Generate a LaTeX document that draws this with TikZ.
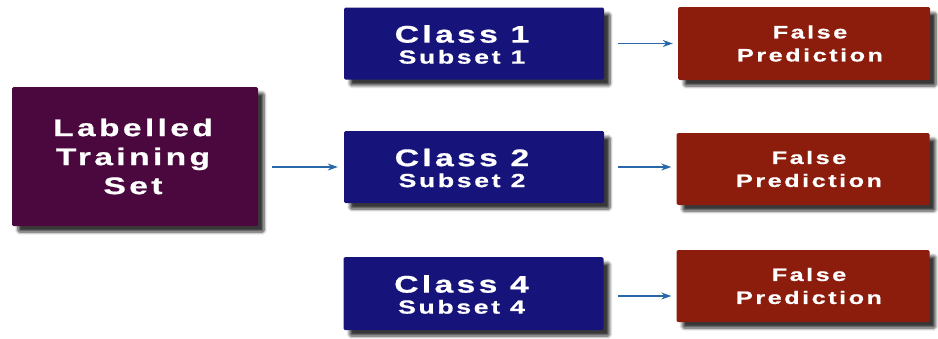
\documentclass[tikz,border=0pt]{standalone}
\usepackage{fontspec}
\setmainfont{Liberation Sans}[LetterSpace=14, FakeStretch=1.4, BoldFeatures={FakeBold=0.7}]
\usetikzlibrary{shadows.blur,arrows.meta}
\definecolor{plum}{RGB}{74,8,62}
\definecolor{navy}{RGB}{22,20,122}
\definecolor{brick}{RGB}{140,28,12}
\definecolor{link}{RGB}{40,104,170}
\tikzset{
  card/.style={rectangle, rounded corners=1.5pt, inner sep=0pt,
    blur shadow={shadow xshift=6pt, shadow yshift=-6pt, shadow blur steps=6,
      shadow blur radius=3pt, shadow opacity=78}},
  source/.style={card, fill=plum, minimum width=246pt, minimum height=139pt},
  classbox/.style={card, fill=navy, minimum width=260pt, minimum height=72pt},
  falsebox/.style={card, fill=brick, minimum width=253pt, minimum height=72pt},
  caption/.style={inner sep=0pt, align=center, text=white},
  sourcetext/.style={caption, font=\bfseries\fontsize{24}{29}\selectfont},
  classtext/.style={caption, font=\bfseries\fontsize{19}{21}\selectfont},
  falsetext/.style={caption, font=\bfseries\fontsize{18}{23}\selectfont},
  flow/.style={draw=link, line width=1.2pt, -{Stealth[length=10pt,width=7pt]}},
}
\newcommand{\classlines}[1]{{\fontsize{24}{24}\selectfont Class #1}\\Subset #1}
\begin{document}
\begin{tikzpicture}[x=1pt,y=-1pt]
  \useasboundingbox (0,0) rectangle (938,338);
  % source set
  \node[source] (src) at (135,156.5) {};
  \node[sourcetext] (srct) at ([xshift=-2pt]src) {Labelled\\Training\\Set};
  % class subsets
  \node[classbox] (c1) at (474,43.5) {};
  \node[classbox] (c2) at (474,167) {};
  \node[classbox, minimum height=73pt] (c4) at (473.5,293.5) {};
  \node[classtext] (c1t) at ([xshift=-12pt,yshift=-1pt]c1) {\classlines{1}};
  \node[classtext] (c2t) at ([xshift=-12pt,yshift=-1pt]c2) {\classlines{2}};
  \node[classtext] (c4t) at ([xshift=-12pt,yshift=-1pt]c4) {\classlines{4}};
  % predictions
  \node[falsebox, minimum width=252pt, minimum height=73pt] (f1) at (804,43.5) {};
  \node[falsebox] (f2) at (803,169) {};
  \node[falsebox] (f3) at (803,286) {};
  \node[falsetext] (f1t) at ([xshift=6pt]f1) {False\\Prediction};
  \node[falsetext] (f2t) at ([xshift=6pt]f2) {False\\Prediction};
  \node[falsetext] (f3t) at ([xshift=6pt]f3) {False\\Prediction};
  % connectors
  \draw[flow, shorten <=14pt, shorten >=6pt] (src.east |- c2) -- (c2.west);
  \draw[flow, shorten <=14pt, shorten >=5pt] (c1.east) -- (c1.east -| f1.west);
  \draw[flow, shorten <=14pt, shorten >=5pt] (c2.east) -- (c2.east -| f2.west);
  \draw[flow, shorten <=14pt, shorten >=5pt] ([yshift=-2.5pt]c4.east) -- ([yshift=-2.5pt]c4.east -| f3.west);
\end{tikzpicture}
\end{document}
